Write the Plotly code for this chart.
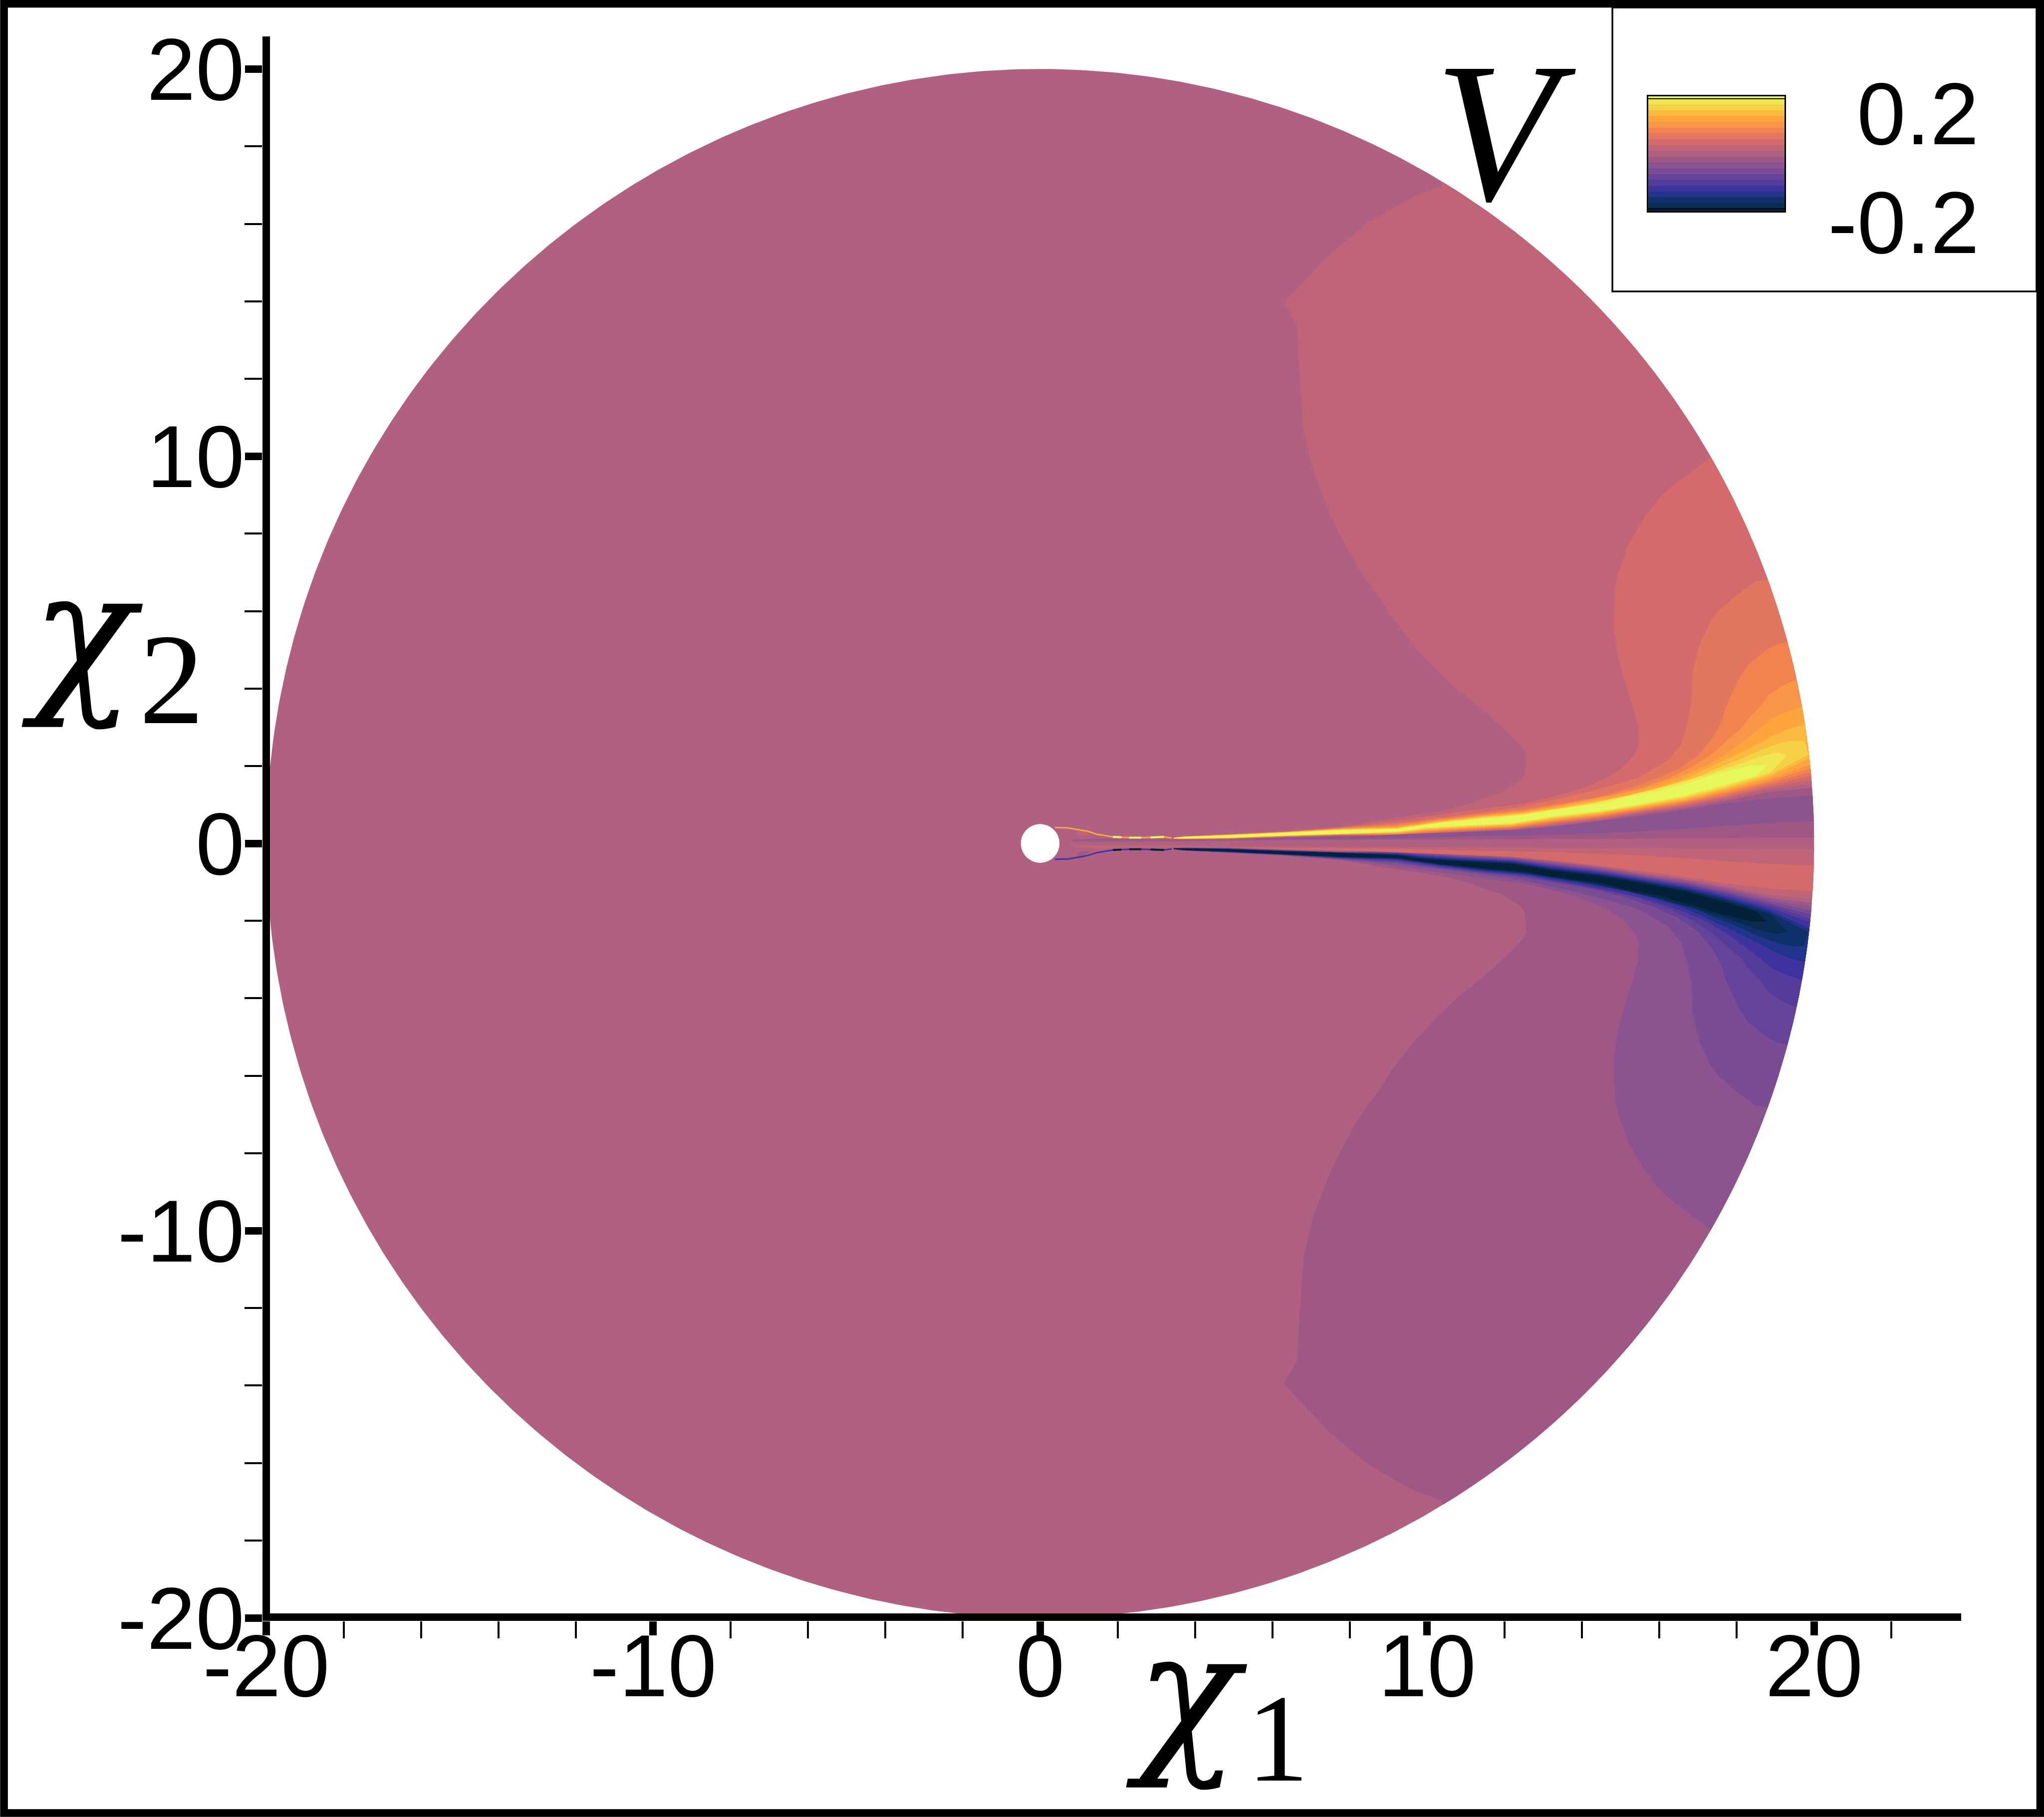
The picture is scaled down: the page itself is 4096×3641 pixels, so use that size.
import numpy as np
import plotly.graph_objects as go

# ---- colour bands, lowest to highest (legend swatch)
BAND_COLORS = ["#03223A", "#0A2A50", "#0F316A", "#21348B", "#3F349F", "#543C9A", "#654398",
               "#7A4C94", "#8B5390", "#9F5886", "#B06080", "#C06478", "#D46A6C", "#E3765F",
               "#F2824F", "#F89547", "#FFA53C", "#FBB93F", "#F5D245", "#F0E651", "#E7F85C"]
BAND_LEVELS = list(range(-10, 11))
BAND_EDGES = [-9.9, -9.5, -8.5, -7.5, -6.5, -5.5, -4.5, -3.5, -2.5, -1.5, -0.5, 0.5,
              1.5, 2.5, 3.5, 4.5, 5.5, 6.5, 7.5, 8.5, 9.5, 9.9]
LEGEND_TEXT = ["0.2", "-0.2"]

TICK_VALS = [-20, -10, 0, 10, 20]
TICK_TEXT = ["-20", "-10", "0", "10", "20"]
MINOR_X = [-18, -16, -14, -12, -8, -6, -4, -2, 2, 4, 6, 8, 12, 14, 16, 18, 22]
MINOR_Y = [-18, -16, -14, -12, -8, -6, -4, -2, 2, 4, 6, 8, 12, 14, 16, 18]

DOMAIN_RADIUS = 20.0
HOLE_RADIUS = 0.5

# ---- contour outlines of the upper lobe (chi1, chi2), rim -> tail
TAIL_X = [7.8, 6.32, 4.84, 3.73, 3.45]
L1_X = [10.35, 9.67, 8.49, 7.48, 6.30, 6.64, 6.71, 6.81, 6.92, 7.07, 7.26, 7.49, 7.86, 8.13, 8.45, 8.82, 9.09, 9.46,
        9.71, 10.3, 10.79, 11.29, 11.58, 12.08, 12.4, 12.53, 12.56, 12.53, 12.42, 12.16, 11.9, 11.64, 11.23, 10.64,
        9.97, 9.23]
L1_Y = [16.96, 16.72, 16.05, 15.21, 13.96, 13.36, 12.02, 10.66, 10.18, 9.59, 9.1, 8.5, 7.76, 7.27, 6.78, 6.28, 5.84, 5.37,
        5.05, 4.44, 3.97, 3.57, 3.33, 2.88, 2.54, 2.38, 2.25, 1.79, 1.63, 1.46, 1.30, 1.23, 1.07, 0.9,
        0.77, 0.673]
L2_X = [17.25, 16.24, 15.97, 15.6, 15.19, 15.0, 14.86, 14.82, 14.93, 15.12, 15.3, 15.45, 15.47, 15.38, 15.08,
        14.71, 14.27, 13.82, 13.23, 12.49, 11.45, 10.34, 9.23]
L2_Y = [9.92, 9.15, 8.89, 8.4, 7.71, 7.15, 6.66, 5.6, 4.82, 4.16, 3.57, 3.04, 2.58, 2.32, 1.99,
        1.73, 1.53, 1.36, 1.2, 1.03, 0.90, 0.75, 0.595]
L3_X = [18.78, 18.48, 17.97, 17.56, 17.34, 17.04, 16.86, 16.84, 16.75, 16.56, 16.23, 15.75, 15.45, 14.78,
        14.04, 13.3, 12.49, 11.45, 10.34, 9.23]
L3_Y = [6.82, 6.76, 6.39, 6.03, 5.77, 5.14, 4.42, 3.76, 3.17, 2.55, 2.15, 1.86, 1.69, 1.5,
        1.3, 1.13, 0.955, 0.805, 0.67, 0.53]
L4_X = [19.3, 19.04, 18.78, 18.3, 18.08, 17.89, 17.71, 17.6, 17.34, 17.0, 16.49, 15.9, 15.15, 14.41, 13.67,
        12.56, 11.45, 10.34, 9.23]
L4_Y = [5.2, 5.14, 5.0, 4.62, 4.29, 3.9, 3.5, 3.11, 2.68, 2.28, 1.92, 1.66, 1.4, 1.2, 1.07,
        0.89, 0.765, 0.635, 0.49]
L5_X = [19.52, 19.15, 18.82, 18.6, 18.37, 18.11, 17.74, 17.37, 16.86, 16.26, 15.52, 14.78, 13.82, 12.56, 11.45,
        10.34, 9.23]
L5_Y = [4.22, 4.06, 3.83, 3.53, 3.3, 2.97, 2.65, 2.32, 1.99, 1.69, 1.43, 1.25, 1.07, 0.85, 0.74,
        0.61, 0.456]
L6_X = [19.68, 19.3, 18.93, 18.6, 18.19, 17.74, 17.23, 16.63, 15.9, 15.15, 14.04, 12.56, 11.45, 10.34, 9.23]
L6_Y = [3.53, 3.4, 3.24, 2.97, 2.65, 2.32, 2.02, 1.76, 1.5, 1.3, 1.08, 0.825, 0.72, 0.59, 0.43]
L7_X = [19.76, 19.37, 19.0, 18.56, 18.04, 17.37, 16.63, 15.9, 15.15, 14.04, 12.56, 11.45, 10.34, 9.23]
L7_Y = [3.07, 2.97, 2.81, 2.58, 2.32, 2.0, 1.66, 1.43, 1.23, 1.04, 0.80, 0.70, 0.57, 0.41]
L8_X = [19.74, 19.45, 19.08, 18.63, 18.12, 17.37, 16.63, 15.9, 15.15, 14.04, 12.56, 11.45, 10.34, 9.23]
L8_Y = [2.65, 2.66, 2.58, 2.42, 2.19, 1.89, 1.56, 1.37, 1.17, 1.01, 0.78, 0.68, 0.555, 0.397]
L9_X = [19.3, 19.0, 18.56, 17.97, 17.37, 16.63, 15.9, 15.15, 14.04, 12.56, 11.45, 10.34, 9.23]
L9_Y = [2.29, 2.34, 2.22, 2.02, 1.82, 1.61, 1.4, 1.23, 0.99, 0.76, 0.66, 0.54, 0.384]
L10_X = [18.78, 18.41, 17.97, 17.37, 16.63, 15.9, 15.15, 14.56, 14.04, 13.08, 12.56, 11.45, 10.34, 9.23]
L10_Y = [2.02, 2.02, 1.92, 1.76, 1.53, 1.33, 1.2, 1.03, 0.97, 0.84, 0.74, 0.64, 0.53, 0.371]

TOP_TAILS = [[0.44, 0.32, 0.25, 0.19, 0.16], [0.42, 0.31, 0.24, 0.185, 0.155], [0.41, 0.305, 0.235, 0.18, 0.15],
             [0.40, 0.30, 0.23, 0.18, 0.15], [0.39, 0.295, 0.225, 0.178, 0.15], [0.38, 0.29, 0.22, 0.176, 0.15],
             [0.37, 0.285, 0.215, 0.174, 0.145], [0.36, 0.285, 0.21, 0.172, 0.145], [0.35, 0.28, 0.208, 0.172, 0.14],
             [0.344, 0.28, 0.206, 0.172, 0.14]]

# lower edges of the jet, rim -> tail
LOW_X = [19.85, 18.85, 17.74, 16.63, 15.52, 14.41, 13.3, 12.19, 11.08, 9.97, 9.23, 7.8, 6.32, 4.84, 3.73, 3.45]
LOW_L1 = [1.528, 1.397, 1.147, 0.936, 0.785, 0.607, 0.476, 0.351, 0.298, 0.233, 0.20, 0.206, 0.163, 0.116, 0.108, 0.12]
LOW_L2 = [1.627, 1.449, 1.186, 0.969, 0.811, 0.634, 0.502, 0.371, 0.318, 0.253, 0.207, 0.213, 0.17, 0.12, 0.11, 0.12]
LOW_L3 = [1.726, 1.502, 1.232, 1.002, 0.838, 0.660, 0.529, 0.391, 0.338, 0.272, 0.22, 0.22, 0.175, 0.124, 0.113, 0.12]
LOW_L4 = [1.824, 1.555, 1.278, 1.035, 0.864, 0.686, 0.555, 0.41, 0.358, 0.292, 0.233, 0.225, 0.18, 0.127, 0.116, 0.125]
LOW_L5 = [1.923, 1.607, 1.318, 1.068, 0.89, 0.713, 0.581, 0.43, 0.377, 0.312, 0.246, 0.23, 0.185, 0.13, 0.12, 0.125]
LOW_L6 = [2.021, 1.66, 1.357, 1.1, 0.916, 0.739, 0.607, 0.45, 0.397, 0.332, 0.259, 0.235, 0.19, 0.135, 0.122, 0.125]
LOW_L7 = [2.186, 1.719, 1.397, 1.133, 0.943, 0.765, 0.634, 0.47, 0.417, 0.351, 0.272, 0.24, 0.195, 0.14, 0.124, 0.125]
LOW_L8 = [2.285, 1.772, 1.443, 1.166, 0.969, 0.792, 0.66, 0.489, 0.436, 0.371, 0.285, 0.245, 0.2, 0.144, 0.126, 0.13]
LOW9_X = [19.15, 18.85, 17.74, 16.63, 15.52, 14.41, 13.3, 12.19, 11.08, 9.97, 9.23, 7.8, 6.32, 4.84, 3.73, 3.45]
LOW_L9 = [2.12, 1.824, 1.482, 1.199, 0.995, 0.811, 0.686, 0.509, 0.456, 0.391, 0.298, 0.248, 0.203, 0.147, 0.128, 0.13]
LOW10_X = [18.5, 17.74, 16.63, 15.52, 14.41, 13.3, 12.19, 11.08, 9.97, 9.23, 7.8, 6.32, 4.84, 3.73, 3.45]
LOW_L10 = [1.75, 1.528, 1.232, 1.022, 0.838, 0.706, 0.529, 0.476, 0.41, 0.312, 0.25, 0.206, 0.15, 0.13, 0.13]

# opposite-sign wedge beneath the jet
WEDGE1_X = [19.85, 18.85, 17.74, 16.63, 15.52, 14.41, 13.3, 12.19, 11.08, 9.97, 9.23, 7.8, 6.32, 4.84, 3.45, 1.5, 0.85]
WEDGE1_TOP = [1.43, 1.33, 1.10, 0.90, 0.75, 0.575, 0.443, 0.332, 0.279, 0.213, 0.18, 0.19, 0.15, 0.10, 0.10, 0.13, 0.10]
WEDGE1_BOT = [0.147, 0.14, 0.135, 0.13, 0.125, 0.12, 0.115, 0.11, 0.105, 0.10, 0.095, 0.09, 0.08, 0.07, 0.05, 0.04, 0.05]
WEDGE2_X = [19.85, 18.85, 17.74, 16.63, 15.52, 14.41, 13.3, 12.19, 11.08, 9.97, 9.23, 7.8, 6.32, 4.84]
WEDGE2_TOP = [1.23, 1.166, 1.035, 0.857, 0.706, 0.575, 0.443, 0.345, 0.30, 0.26, 0.226, 0.175, 0.15, 0.105]
WEDGE2_BOT = [0.56, 0.53, 0.46, 0.378, 0.312, 0.265, 0.225, 0.20, 0.18, 0.16, 0.134, 0.125, 0.115, 0.10]

# thin streak running from the jet to the inner circle, and its bright patches
STREAK_X = [0.38, 0.72, 1.02, 1.24, 1.45, 1.67, 1.88, 2.1, 2.3, 2.61, 2.96, 3.2, 3.4]
STREAK_Y = [0.41, 0.40, 0.35, 0.31, 0.24, 0.20, 0.17, 0.16, 0.15, 0.15, 0.16, 0.17, 0.14]
PATCH_A_X = [1.88, 2.1]
PATCH_A_Y = [0.17, 0.16]
PATCH_B_X = [2.3, 2.61]
PATCH_B_Y = [0.15, 0.15]
PATCH_C_X = [2.85, 3.2]
PATCH_C_Y = [0.155, 0.17]
INNER_X = [0.95, 1.15, 1.3, 1.1, 0.95]
INNER_Y = [0.34, 0.30, 0.2, 0.2, 0.26]

W, H = 4096, 3641
PL, PR, PT, PB = 525.5, 3930.0, 73.0, 3248.0


def px_x(p):
    return (p - PL) / (PR - PL)


def px_y(p):
    return (PB - p) / (PB - PT)


def band(level):
    return BAND_COLORS[BAND_LEVELS.index(level)]


def rim(x0, y0, x1, y1):
    a0, a1 = np.arctan2(y0, x0), np.arctan2(y1, x1)
    t = np.linspace(a0, a1, 60)
    return (DOMAIN_RADIUS * np.cos(t)).tolist(), (DOMAIN_RADIUS * np.sin(t)).tolist()


fig = go.Figure()


def area(xs, ys, color):
    fig.add_trace(go.Scatter(x=list(xs), y=list(ys), mode="lines", fill="toself", fillcolor=color,
                             line=dict(width=0, color=color), hoverinfo="skip", showlegend=False))


theta = np.linspace(0, 2 * np.pi, 720)
area(DOMAIN_RADIUS * np.cos(theta), DOMAIN_RADIUS * np.sin(theta), band(0))

LOBES = [(L1_X, L1_Y, LOW_X, LOW_L1), (L2_X, L2_Y, LOW_X, LOW_L2), (L3_X, L3_Y, LOW_X, LOW_L3),
         (L4_X, L4_Y, LOW_X, LOW_L4), (L5_X, L5_Y, LOW_X, LOW_L5), (L6_X, L6_Y, LOW_X, LOW_L6),
         (L7_X, L7_Y, LOW_X, LOW_L7), (L8_X, L8_Y, LOW_X, LOW_L8), (L9_X, L9_Y, LOW9_X, LOW_L9),
         (L10_X, L10_Y, LOW10_X, LOW_L10)]

for sign in (1, -1):
    for k, (ux, uy, lx, ly) in enumerate(LOBES, start=1):
        xs = ux + TAIL_X + lx[::-1]
        ys = uy + TOP_TAILS[k - 1] + ly[::-1]
        if k <= 7:
            ax, ay = rim(lx[0], ly[0], ux[0], uy[0])
            xs = xs + ax
            ys = ys + ay
        area(xs, [sign * v for v in ys], band(sign * k))
    for k, (wx, wt, wb) in enumerate([(WEDGE1_X, WEDGE1_TOP, WEDGE1_BOT), (WEDGE2_X, WEDGE2_TOP, WEDGE2_BOT)], start=1):
        ax, ay = rim(wx[0], wb[0], wx[0], wt[0])
        xs = wx + wx[::-1] + ax
        ys = wt + wb[::-1] + ay
        area(xs, [sign * v for v in ys], band(-sign * k))
    area(INNER_X, [sign * v for v in INNER_Y], band(sign))
    fig.add_trace(go.Scatter(x=STREAK_X, y=[sign * v for v in STREAK_Y], mode="lines",
                             line=dict(color=band(sign * 6), width=3), hoverinfo="skip", showlegend=False))
    for px_, py_ in [(PATCH_A_X, PATCH_A_Y), (PATCH_B_X, PATCH_B_Y), (PATCH_C_X, PATCH_C_Y)]:
        fig.add_trace(go.Scatter(x=px_, y=[sign * v for v in py_], mode="lines",
                                 line=dict(color=band(sign * 10), width=4), hoverinfo="skip", showlegend=False))

area(HOLE_RADIUS * np.cos(theta), HOLE_RADIUS * np.sin(theta), "#FFFFFF")

# ---- legend swatch
n = len(BAND_COLORS)
scale = []
for i, c in enumerate(BAND_COLORS):
    scale += [[i / n, c], [(i + 1) / n, c]]
fig.add_trace(go.Heatmap(z=[[v] for v in BAND_LEVELS], x=[0, 1], y=BAND_EDGES, colorscale=scale,
                         zmin=-10.5, zmax=10.5, showscale=False, xaxis="x2", yaxis="y2", hoverinfo="skip"))

tickfont = dict(family="Liberation Sans", size=176, color="black")
axis_common = dict(tickmode="array", tickvals=TICK_VALS, ticktext=TICK_TEXT, ticks="outside", tickwidth=15,
                   tickcolor="black", showgrid=False, zeroline=False, showline=False, tickfont=tickfont)
fig.update_layout(
    width=W, height=H, margin=dict(l=PL, r=W - PR, t=PT, b=H - PB, pad=0),
    paper_bgcolor="white", plot_bgcolor="white", showlegend=False,
    xaxis=dict(range=[-20.097, 23.8], ticklen=28, ticklabelstandoff=-89,
               minor=dict(tickmode="array", tickvals=MINOR_X, ticks="outside", ticklen=34, tickwidth=4, tickcolor="black"),
               **axis_common),
    yaxis=dict(range=[-20.077, 20.84], ticklen=34, ticklabelstandoff=-34,
               minor=dict(tickmode="array", tickvals=MINOR_Y, ticks="outside", ticklen=35, tickwidth=4, tickcolor="black"),
               **axis_common),
    xaxis2=dict(domain=[px_x(3303), px_x(3576)], anchor="y2", range=[0, 1], showticklabels=False, ticks="",
                showgrid=False, zeroline=False, showline=True, mirror=True, linecolor="black", linewidth=3),
    yaxis2=dict(domain=[px_y(423), px_y(193)], anchor="x2", range=[-9.9, 9.9], showticklabels=False, ticks="",
                showgrid=False, zeroline=False, showline=True, mirror=True, linecolor="black", linewidth=3),
)

shapes = [
    dict(type="line", xref="x", yref="y", x0=-20, x1=-20, y0=-20.077, y1=20.84, line=dict(color="black", width=15)),
    dict(type="line", xref="x", yref="y", x0=-20.097, x1=23.8, y0=-19.98, y1=-19.98, line=dict(color="black", width=15)),
    dict(type="line", xref="x2", yref="y2", x0=0, x1=1, y0=9.5, y1=9.5, line=dict(color="black", width=2)),
    dict(type="line", xref="x2", yref="y2", x0=0, x1=1, y0=-9.5, y1=-9.5, line=dict(color="black", width=2)),
    dict(type="rect", xref="paper", yref="paper", x0=px_x(3231), x1=px_x(4081), y0=px_y(584), y1=px_y(15),
         line=dict(color="black", width=3.5), fillcolor="rgba(0,0,0,0)"),
    dict(type="rect", xref="paper", yref="paper", x0=px_x(7.5), x1=px_x(W - 7.5), y0=px_y(H - 8), y1=px_y(7.5),
         line=dict(color="black", width=15.5), fillcolor="rgba(0,0,0,0)"),
]
fig.update_layout(shapes=shapes)


def label(text, cx, cy, size, family, xanchor="center"):
    fig.add_annotation(text=text, xref="paper", yref="paper", x=px_x(cx), y=px_y(cy), showarrow=False,
                       xanchor=xanchor, yanchor="middle", borderpad=0,
                       font=dict(family=family, size=size, color="black"))


label(LEGEND_TEXT[0], 3967, 228, 176, "Liberation Sans", "right")
label(LEGEND_TEXT[1], 3967, 446, 176, "Liberation Sans", "right")
label("<i>χ</i>", 2377, 3393, 340, "DejaVu Serif")
label("1", 2560, 3483, 250, "Liberation Serif")
label("<i>χ</i>", 163, 1268, 340, "DejaVu Serif")
label("2", 343, 1361, 260, "Liberation Serif")
label("<i>V</i>", 3019, 265, 400, "Liberation Serif")

fig.write_html("out.html", config=dict(displayModeBar=False),
               post_script="document.body.style.margin='0';")
